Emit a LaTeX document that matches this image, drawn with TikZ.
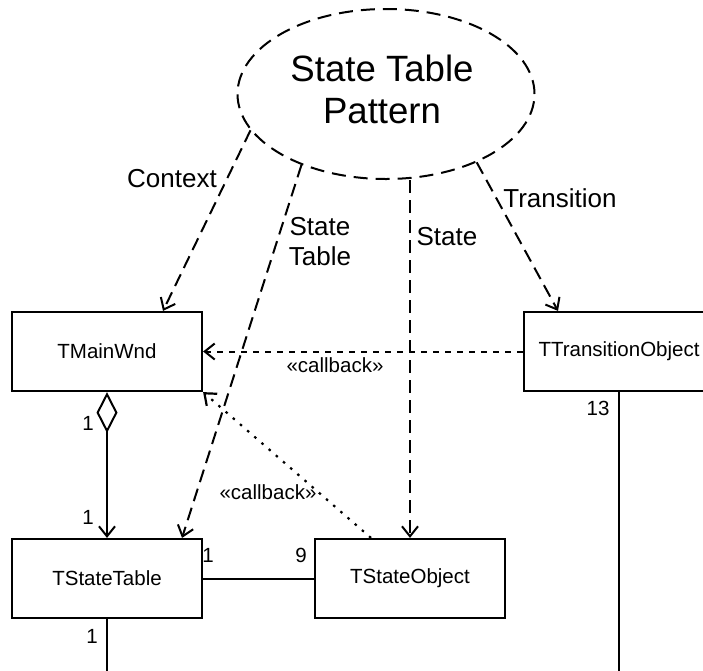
\documentclass[tikz,border=0pt]{standalone}
\usepackage{fontspec}
\setmainfont{Liberation Sans}
\usetikzlibrary{arrows.meta,shapes.geometric,calc}
\begin{document}
\begin{tikzpicture}[x=1pt,y=-1pt,
  cls/.style={draw,line width=2.2pt,minimum width=190pt,minimum height=79pt,inner sep=0pt,font=\fontsize{20.5}{24}\selectfont},
  lbl/.style={font=\fontsize{26}{30}\selectfont,inner sep=0pt,align=center},
  mult/.style={font=\fontsize{20.5}{24}\selectfont,inner sep=0pt},
  barb/.style={-{Straight Barb[length=10pt,width=16pt]}},
  dep/.style={line width=2pt,dash pattern=on 13pt off 7pt,barb},
  cb/.style={line width=2pt,dash pattern=on 6pt off 6pt,barb},
  cbdot/.style={line width=2.2pt,dash pattern=on 2.5pt off 7pt,barb},
  assoc/.style={line width=2pt},
  ]
\clip (0,0) rectangle (703,670);
\node[ellipse,draw,dash pattern=on 14pt off 8pt,line width=2pt,minimum width=297pt,minimum height=170pt,inner sep=0pt] (pat) at (386,94) {};
\node[align=center,inner sep=0pt,font=\fontsize{36.6}{42}\selectfont] (ptxt) at (382,89) {State Table\\Pattern};
\node[cls] (tmw) at (107,351.5) {TMainWnd};
\node[cls] (tst) at (107,578.5) {TStateTable};
\node[cls] (tso) at (410,578.5) {TStateObject};
\node[cls] (tto) at (619,351.5) {TTransitionObject};
% dependencies from pattern
\draw[dep] (pat.195.8) -- ([xshift=56pt]tmw.north);
\draw[dep] (pat.220) -- ([xshift=75pt]tst.north);
\draw[dep] (tso.north |- pat.south) -- (tso.north);
\draw[dep] (pat.-37.5) -- ([xshift=-61pt]tto.north);
% callbacks
\draw[cb] (tto.west) -- (tmw.east);
\draw[cbdot] ([xshift=-39pt]tso.north) -- (tmw.south east);
% aggregation
\draw[assoc,{Diamond[open,length=41pt,width=21pt]}-{Straight Barb[length=10pt,width=16pt]}] (tmw.south) -- (tst.north);
% associations
\draw[assoc] (tst.east) -- (tso.west);
\coordinate (tstend) at (107,675);
\coordinate (ttoend) at (619,675);
\draw[assoc] (tst.south) -- (tstend);
\draw[assoc] (tto.south) -- (ttoend);
% labels
\node[lbl] (lctx) at (172,179) {Context};
\node[lbl] (lst) at (320,242) {State\\Table};
\node[lbl] (lstate) at (447,237) {State};
\node[lbl] (ltr) at (560,198) {Transition};
\node[mult] (cba) at (335,365) {«callback»};
\node[mult] (cbb) at (268,492) {«callback»};
\node[mult] (m1) at (88,423) {1};
\node[mult] (m2) at (88,517) {1};
\node[mult] (m3) at (92,636) {1};
\node[mult] (m4) at (208,555) {1};
\node[mult] (m5) at (301,555) {9};
\node[mult] (m6) at (598,408) {13};
\end{tikzpicture}
\end{document}
